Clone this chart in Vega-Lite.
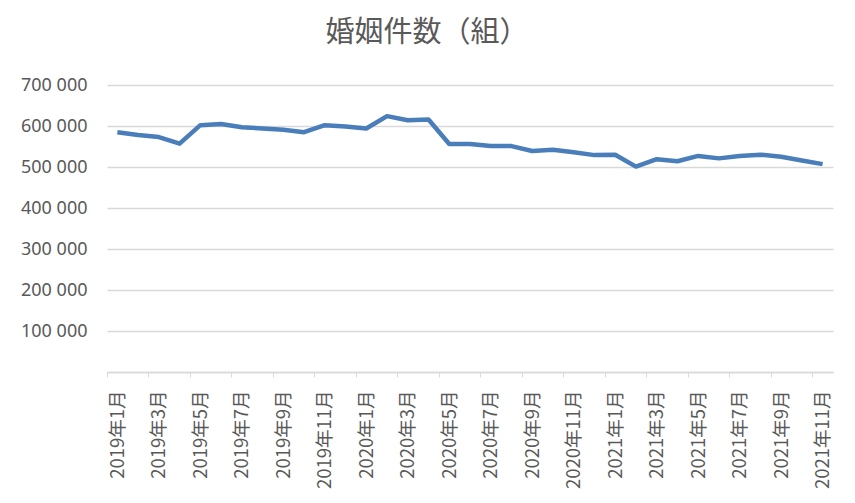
{
  "$schema": "https://vega.github.io/schema/vega-lite/v6.json",
  "width": 726,
  "height": 287,
  "autosize": {"type": "none"},
  "padding": {"left": 107, "top": 85, "right": 22, "bottom": 131},
  "background": "white",
  "title": {
    "text": "婚姻件数（組）",
    "anchor": "middle",
    "dx": -43,
    "offset": 28,
    "fontSize": 29,
    "font": "Noto Sans CJK JP",
    "fontWeight": "normal",
    "color": "#595959"
  },
  "data": {
    "values": [
      {"month": "2019年1月", "count": 584600},
      {"month": "2019年2月", "count": 578000},
      {"month": "2019年3月", "count": 573000},
      {"month": "2019年4月", "count": 557000},
      {"month": "2019年5月", "count": 602000},
      {"month": "2019年6月", "count": 605000},
      {"month": "2019年7月", "count": 597000},
      {"month": "2019年8月", "count": 594000},
      {"month": "2019年9月", "count": 591000},
      {"month": "2019年10月", "count": 585000},
      {"month": "2019年11月", "count": 602000},
      {"month": "2019年12月", "count": 599000},
      {"month": "2020年1月", "count": 594000},
      {"month": "2020年2月", "count": 624000},
      {"month": "2020年3月", "count": 614000},
      {"month": "2020年4月", "count": 616000},
      {"month": "2020年5月", "count": 556000},
      {"month": "2020年6月", "count": 556000},
      {"month": "2020年7月", "count": 551000},
      {"month": "2020年8月", "count": 551000},
      {"month": "2020年9月", "count": 539000},
      {"month": "2020年10月", "count": 542000},
      {"month": "2020年11月", "count": 536000},
      {"month": "2020年12月", "count": 529000},
      {"month": "2021年1月", "count": 530000},
      {"month": "2021年2月", "count": 501000},
      {"month": "2021年3月", "count": 519000},
      {"month": "2021年4月", "count": 514000},
      {"month": "2021年5月", "count": 527000},
      {"month": "2021年6月", "count": 521000},
      {"month": "2021年7月", "count": 527000},
      {"month": "2021年8月", "count": 530000},
      {"month": "2021年9月", "count": 525000},
      {"month": "2021年10月", "count": 516000},
      {"month": "2021年11月", "count": 507000}
    ]
  },
  "mark": {"type": "line", "color": "#4a7ebb", "strokeWidth": 4.5, "strokeJoin": "round"},
  "encoding": {
    "x": {
      "field": "month",
      "type": "ordinal",
      "sort": null,
      "title": null,
      "scale": {"type": "point", "padding": 0.5},
      "axis": {
        "values": ["2019年1月", "2019年3月", "2019年5月", "2019年7月", "2019年9月", "2019年11月",
                   "2020年1月", "2020年3月", "2020年5月", "2020年7月", "2020年9月", "2020年11月",
                   "2021年1月", "2021年3月", "2021年5月", "2021年7月", "2021年9月", "2021年11月"],
        "labelAngle": 270,
        "labelAlign": "right",
        "labelBaseline": "middle",
        "labelFont": "Noto Sans CJK JP",
        "labelFontSize": 18.5,
        "labelColor": "#595959",
        "labelPadding": 13,
        "labelOffset": 10.37,
        "tickOffset": -10.37,
        "tickSize": 5,
        "tickColor": "#d9d9d9",
        "domainColor": "#d9d9d9",
        "domainWidth": 1.5,
        "grid": false
      }
    },
    "y": {
      "field": "count",
      "type": "quantitative",
      "title": null,
      "scale": {"domain": [0, 700000], "nice": false},
      "axis": {
        "values": [0, 100000, 200000, 300000, 400000, 500000, 600000, 700000],
        "labelExpr": "datum.value == 0 ? '' : slice(format(datum.value, 'd'), 0, 3) + ' ' + slice(format(datum.value, 'd'), 3)",
        "labelFont": "Noto Sans",
        "labelFontSize": 18,
        "labelColor": "#595959",
        "labelPadding": 20,
        "ticks": false,
        "tickSize": 0,
        "domain": false,
        "grid": true,
        "gridColor": "#d9d9d9",
        "gridWidth": 1.5
      }
    }
  },
  "config": {"view": {"stroke": null}}
}
